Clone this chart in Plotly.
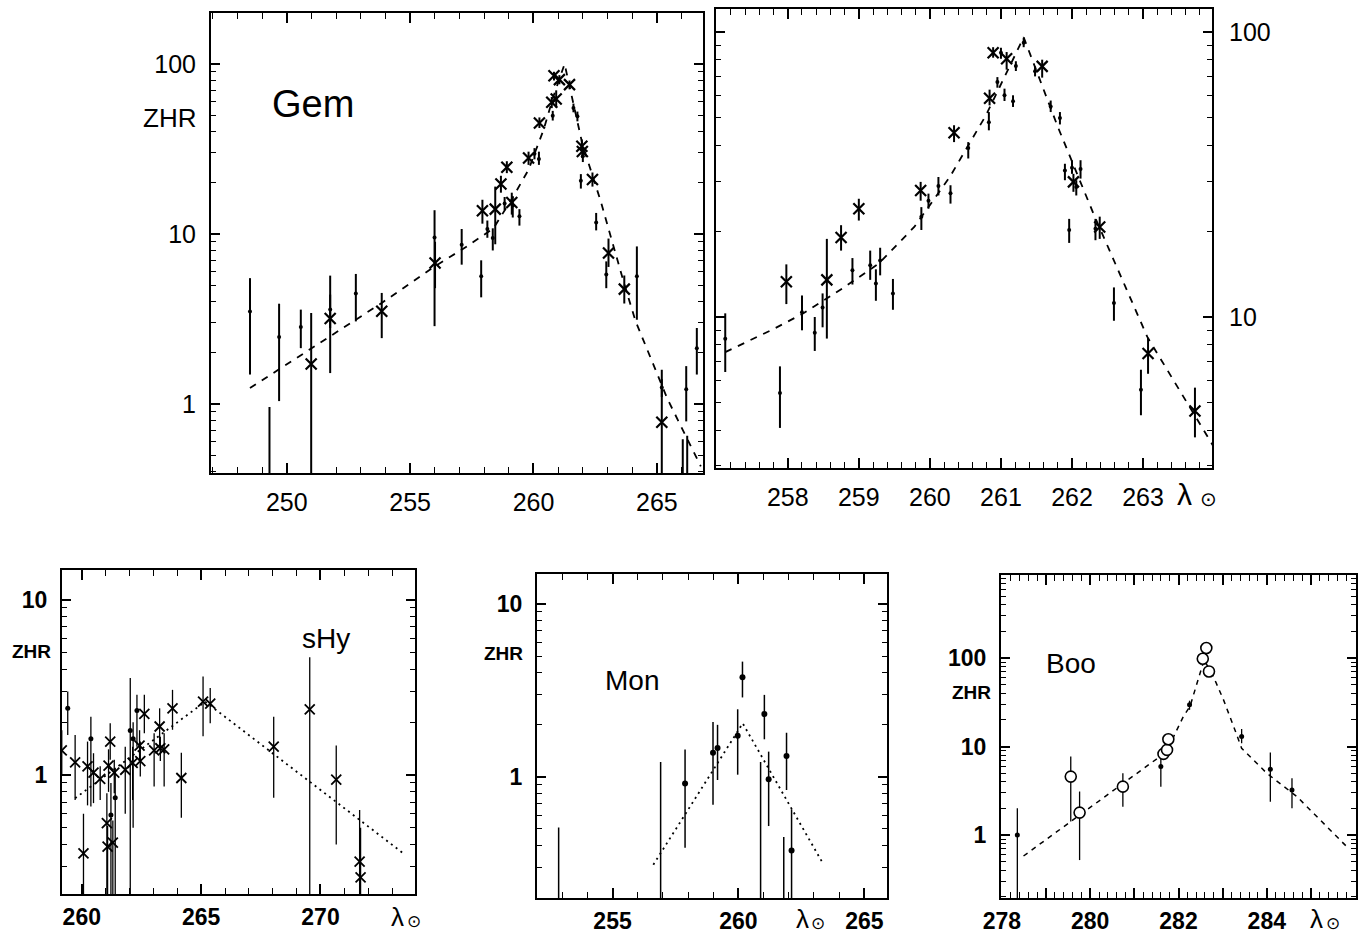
import plotly.graph_objects as go

W, H = 1364, 940
FONT = "Liberation Sans, Arial, sans-serif"

# ---------------- Gem (top left) ----------------
g1c_x = [250.99, 251.76, 253.85, 256.01, 257.93, 258.45, 258.68, 258.92, 259.12, 259.80, 260.24,
         260.74, 260.83, 260.92, 261.05, 261.46, 261.96, 261.98, 262.39, 263.04, 263.68, 265.20]
g1c_y = [1.72, 3.18, 3.51, 6.75, 13.7, 14.0, 19.7, 24.7, 15.3, 28.0, 45.0,
         59.5, 85.3, 62.2, 80.9, 75.6, 32.8, 30.6, 20.9, 7.72, 4.74, 0.78]
g1c_lo = [0.01, 1.52, 2.44, 4.8, 11.5, 8.7, 17.5, 22.8, 13.0, 25.5, 42.0,
          55.0, 80.0, 55.5, 76.0, 71.0, 30.0, 28.0, 19.0, 6.4, 3.9, 0.01]
g1c_hi = [3.43, 5.69, 4.5, 9.0, 15.9, 19.0, 22.0, 26.8, 17.5, 30.5, 48.5,
          64.0, 90.0, 70.0, 86.0, 80.0, 36.0, 33.0, 23.0, 9.4, 5.7, 1.59]

g1d_x = [248.51, 249.30, 249.69, 250.57, 251.76, 252.80, 255.99, 257.09, 257.88, 258.13,
         258.35, 258.83, 259.16, 259.43, 260.04, 260.22, 260.78, 261.62, 261.78, 261.92,
         262.00, 262.54, 262.95, 264.19, 265.20, 266.05, 266.19, 266.23, 266.62]
g1d_y = [3.5, 0.1, 2.48, 2.84, 3.59, 4.46, 9.55, 8.65, 5.64, 10.7,
         9.46, 15.1, 14.7, 12.7, 29.7, 27.6, 49.6, 55.1, 49.2, 20.6,
         28.7, 11.7, 5.77, 5.64, 1.25, 0.1, 1.22, 0.1, 2.13]
g1d_lo = [1.49, 0.01, 1.04, 2.13, 2.8, 3.06, 2.87, 6.6, 4.24, 9.5,
          8.0, 13.8, 12.5, 11.2, 27.5, 25.5, 46.5, 52.0, 46.0, 18.5,
          26.5, 10.5, 4.8, 3.13, 1.1, 0.01, 0.79, 0.01, 1.49]
g1d_hi = [5.5, 0.96, 3.89, 3.59, 4.4, 5.82, 13.8, 10.7, 7.0, 12.0,
          10.8, 16.5, 16.5, 14.0, 32.0, 30.5, 53.0, 58.5, 52.5, 22.5,
          30.8, 13.3, 6.9, 8.45, 1.4, 0.62, 1.67, 0.65, 2.8]

g1f_x = [248.51, 251.76, 253.85, 256.01, 257.30, 258.38, 259.19, 259.80, 260.41, 260.81,
         261.26, 261.98, 262.73, 263.63, 264.13, 265.43, 266.78]
g1f_y = [1.24, 2.50, 3.93, 6.46, 8.45, 10.8, 16.7, 23.9, 41.1, 64.6,
         100, 33.9, 15.5, 5.37, 3.09, 1.07, 0.43]

# ---------------- Gem (top right, zoomed) ----------------
g2c_x = [257.98, 258.55, 258.75, 259.00, 259.87, 260.34, 260.84, 260.89, 261.08, 261.58,
         262.02, 262.39, 263.07, 263.73]
g2c_y = [13.3, 13.5, 19.0, 24.0, 27.8, 44.3, 58.6, 84.6, 80.6, 75.8, 29.8, 20.7, 7.44, 4.68]
g2c_lo = [11.1, 8.4, 17.1, 21.8, 25.6, 41.1, 55.3, 81.3, 73.8, 69.2, 27.5, 18.8, 6.32, 3.78]
g2c_hi = [15.3, 18.8, 21.0, 26.0, 29.8, 47.1, 62.8, 88.5, 85.1, 80.0, 31.8, 22.5, 8.45, 5.65]

g2d_x = [257.12, 257.89, 258.20, 258.38, 258.49, 258.91, 259.16, 259.24, 259.30, 259.48,
         259.88, 259.98, 260.12, 260.29, 260.54, 260.83, 260.95, 261.00, 261.05, 261.17,
         261.21, 261.32, 261.48, 261.70, 261.83, 261.90, 261.96, 262.00, 262.06, 262.12,
         262.33, 262.59, 262.97]
g2d_y = [8.39, 5.41, 10.4, 8.81, 10.8, 14.6, 15.2, 13.1, 15.8, 12.1,
         22.5, 25.6, 28.8, 27.2, 39.2, 48.3, 66.8, 84.6, 60.0, 57.2,
         76.0, 91.7, 72.9, 54.8, 49.9, 32.7, 20.2, 33.4, 28.6, 33.1,
         20.4, 11.2, 5.56]
g2d_lo = [6.41, 4.08, 8.98, 7.6, 9.2, 13.0, 13.5, 11.4, 14.0, 10.6,
          20.2, 24.0, 26.7, 25.0, 36.0, 45.2, 63.8, 80.6, 57.3, 54.6,
          73.0, 88.5, 69.9, 52.4, 47.4, 30.2, 18.2, 31.8, 26.7, 30.6,
          18.6, 9.7, 4.52]
g2d_hi = [10.3, 6.71, 11.9, 10.0, 12.1, 16.1, 17.1, 14.7, 17.5, 13.6,
          24.3, 27.1, 31.0, 29.0, 41.1, 52.4, 69.5, 88.1, 63.3, 60.0,
          79.0, 95.5, 75.8, 57.5, 52.4, 34.5, 22.1, 35.5, 30.2, 35.5,
          22.1, 12.7, 6.53]

g2f_x = [257.12, 257.76, 258.22, 258.77, 259.28, 259.78, 260.28, 260.79, 261.32, 261.80,
         262.30, 263.06, 264.01]
g2f_y = [7.53, 8.97, 10.3, 12.6, 15.4, 20.7, 31.0, 51.1, 95.9, 46.5, 23.1, 8.51, 3.45]

# ---------------- sHy ----------------
s_c_x = [259.16, 259.72, 260.07, 260.24, 260.49, 260.77, 261.05, 261.08, 261.12, 261.19,
         261.30, 261.36, 261.82, 262.13, 262.42, 262.45, 262.62, 263.03, 263.26, 263.29,
         263.45, 263.80, 264.17, 265.08, 265.38, 268.04, 269.55, 270.66, 271.64, 271.68]
s_c_y = [1.38, 1.18, 0.356, 1.12, 1.03, 0.95, 0.53, 0.39, 1.13, 1.55,
         0.41, 1.03, 1.07, 1.17, 1.47, 1.20, 2.23, 1.38, 1.89, 1.42,
         1.40, 2.40, 0.96, 2.62, 2.55, 1.45, 2.37, 0.94, 0.32, 0.26]
s_c_lo = [1.0, 0.72, 0.01, 0.67, 0.69, 0.72, 0.01, 0.01, 0.8, 1.22,
          0.01, 0.785, 0.60, 0.72, 1.2, 0.98, 1.73, 0.86, 1.45, 1.2,
          0.86, 1.81, 0.57, 1.66, 1.97, 0.74, 0.01, 0.40, 0.01, 0.01]
s_c_hi = [1.8, 1.69, 0.60, 1.55, 1.33, 1.12, 0.785, 0.51, 1.4, 1.97,
          0.55, 1.22, 1.45, 1.45, 1.8, 1.55, 2.87, 1.73, 2.4, 1.65,
          1.73, 3.06, 1.34, 3.65, 3.13, 2.15, 4.7, 1.47, 0.63, 0.5]

s_d_x = [259.41, 260.38, 261.22, 261.40, 262.03, 262.15, 262.31]
s_d_y = [2.4, 1.61, 0.59, 0.74, 1.79, 1.61, 2.33]
s_d_lo = [1.69, 0.66, 0.01, 0.01, 0.01, 0.5, 1.45]
s_d_hi = [2.99, 2.15, 0.9, 1.1, 3.57, 2.0, 2.87]

s_f_x = [259.72, 265.17, 273.43]
s_f_y = [0.736, 2.62, 0.36]

# ---------------- Mon ----------------
m_d_x = [252.86, 256.91, 257.88, 258.99, 259.17, 259.97, 260.16, 260.88, 261.03, 261.20,
         261.80, 261.91, 262.11]
m_d_y = [0.05, 0.05, 0.915, 1.38, 1.47, 1.73, 3.77, 0.05, 2.31, 0.97, 0.05, 1.32, 0.375]
m_d_lo = [0.01, 0.01, 0.39, 0.69, 0.96, 1.03, 2.88, 0.01, 1.65, 0.52, 0.01, 0.84, 0.01]
m_d_hi = [0.51, 1.22, 1.44, 2.08, 2.0, 2.46, 4.64, 1.22, 2.98, 1.4, 0.45, 1.8, 0.65]

m_f_x = [256.62, 260.17, 263.33]
m_f_y = [0.311, 2.04, 0.321]

# ---------------- Boo ----------------
b_d_x = [278.35, 281.60, 282.25, 283.43, 284.08, 284.57]
b_d_y = [1.0, 5.94, 29.7, 13.0, 5.53, 3.23]
b_d_lo = [0.01, 3.52, 26.0, 10.9, 2.38, 2.0]
b_d_hi = [2.0, 8.05, 33.0, 15.8, 8.55, 4.37]

b_o_x = [279.56, 279.76, 280.74, 281.66, 281.74, 281.77, 282.55, 282.63, 282.69]
b_o_y = [4.57, 1.79, 3.52, 8.26, 9.16, 12.1, 98.4, 130, 70.7]
b_o_lo = [1.42, 0.52, 2.09, 7.5, 8.3, 11.0, 98.4, 130, 70.7]
b_o_hi = [7.7, 3.1, 4.99, 9.2, 10.0, 13.5, 98.4, 130, 70.7]

b_f_x = [278.49, 279.56, 281.58, 281.89, 282.11, 282.26, 282.53, 282.58, 282.79, 283.02,
         283.25, 283.43, 284.00, 284.68, 285.81]
b_f_y = [0.578, 1.416, 7.71, 12.97, 21.9, 28.4, 80.5, 95.5, 61.9, 33.7,
         16.8, 9.57, 4.99, 2.72, 0.738]

# ---------------- helpers ----------------
fig = go.Figure()


def errpts(x, y, lo, hi, ax, symbol, size, mlw, ew, fill="black"):
    plus = [h - v for v, h in zip(y, hi)]
    minus = [v - l for v, l in zip(y, lo)]
    marker = dict(symbol=symbol, size=size, color=fill,
                  line=dict(color="black", width=mlw))
    fig.add_trace(go.Scatter(
        x=x, y=y, mode="markers", marker=marker, showlegend=False,
        xaxis="x" + ax, yaxis="y" + ax, cliponaxis=True,
        error_y=dict(type="data", symmetric=False, array=plus, arrayminus=minus,
                     width=0, thickness=ew, color="black")))


def fitline(x, y, ax, dash, width):
    fig.add_trace(go.Scatter(x=x, y=y, mode="lines", showlegend=False,
                             line=dict(color="black", width=width, dash=dash),
                             xaxis="x" + ax, yaxis="y" + ax))


# Gem 1
fitline(g1f_x, g1f_y, "", "7px,7px", 1.8)
errpts(g1d_x, g1d_y, g1d_lo, g1d_hi, "", "circle", 4, 0, 2)
errpts(g1c_x, g1c_y, g1c_lo, g1c_hi, "", "x-thin", 11, 2.2, 2)
# Gem 2
fitline(g2f_x, g2f_y, "2", "7px,7px", 1.8)
errpts(g2d_x, g2d_y, g2d_lo, g2d_hi, "2", "circle", 4, 0, 2)
errpts(g2c_x, g2c_y, g2c_lo, g2c_hi, "2", "x-thin", 11, 2.2, 2)
# sHy
fitline(s_f_x, s_f_y, "3", "2px,4px", 1.8)
errpts(s_d_x, s_d_y, s_d_lo, s_d_hi, "3", "circle", 5, 0, 1.3)
errpts(s_c_x, s_c_y, s_c_lo, s_c_hi, "3", "x-thin", 10, 1.8, 1.3)
# Mon
fitline(m_f_x, m_f_y, "4", "2px,4px", 1.8)
errpts(m_d_x, m_d_y, m_d_lo, m_d_hi, "4", "circle", 6, 0, 1.5)
# Boo
fitline(b_f_x, b_f_y, "5", "5px,5px", 1.5)
errpts(b_d_x, b_d_y, b_d_lo, b_d_hi, "5", "circle", 5, 0, 1.3)
errpts(b_o_x, b_o_y, b_o_lo, b_o_hi, "5", "circle", 11, 1.6, 1.3, fill="white")


def minor_log(lo_exp, hi_exp):
    return [m * 10 ** k for k in range(lo_exp, hi_exp + 1) for m in range(2, 10)]


def xaxis(dom, rng, tickvals, ticktext, minor_dtick, size, bold, standoff, anchor):
    return dict(domain=[dom[0] / W, dom[1] / W], range=rng, anchor=anchor, automargin=False,
                showline=True, linecolor="black", linewidth=2, mirror="ticks",
                showgrid=False, zeroline=False,
                ticks="inside", ticklen=10, tickwidth=1.6, tickcolor="black",
                tickmode="array", tickvals=tickvals, ticktext=ticktext,
                ticklabelstandoff=standoff,
                tickfont=dict(family=FONT, size=size, color="black",
                              weight="bold" if bold else "normal"),
                minor=dict(dtick=minor_dtick, tick0=0, ticks="inside", ticklen=6,
                           tickwidth=1.4, tickcolor="black", showgrid=False))


def yaxis(dom, rng, tickvals, size, bold, standoff, anchor, side="left", minor_exp=(-1, 2)):
    return dict(domain=[1 - dom[1] / H, 1 - dom[0] / H], type="log", range=rng,
                anchor=anchor, side=side, automargin=False,
                showline=True, linecolor="black", linewidth=2, mirror="ticks",
                showgrid=False, zeroline=False,
                ticks="inside", ticklen=9, tickwidth=1.6, tickcolor="black",
                tickmode="array", tickvals=tickvals, ticktext=[str(v) for v in tickvals],
                ticklabelstandoff=standoff,
                tickfont=dict(family=FONT, size=size, color="black",
                              weight="bold" if bold else "normal"),
                minor=dict(tickvals=minor_log(*minor_exp), ticks="inside", ticklen=5,
                           tickwidth=1.4, tickcolor="black", showgrid=False))


p1x, p1y = (211, 703), (13, 473)
p2x, p2y = (716, 1212), (9, 468)
p3x, p3y = (62, 415), (570, 894)
p4x, p4y = (537, 887), (574, 898)
p5x, p5y = (1001, 1356), (575, 898)

layout = dict(
    width=W, height=H, margin=dict(l=0, r=0, t=0, b=0, pad=0, autoexpand=False), autosize=False,
    paper_bgcolor="white", plot_bgcolor="white", showlegend=False,
    xaxis=xaxis(p1x, [246.93, 266.87], [250, 255, 260, 265], ["250", "255", "260", "265"],
                1, 25, False, 6, "y"),
    yaxis=yaxis(p1y, [-0.406, 2.30], [1, 10, 100], 25, False, 8, "x"),
    xaxis2=xaxis(p2x, [256.99, 263.97], [258, 259, 260, 261, 262, 263],
                 ["258", "259", "260", "261", "262", "263"], 0.2, 25, False, 6, "y2"),
    yaxis2=yaxis(p2y, [0.47, 2.081], [10, 100], 25, False, 10, "x2", side="right"),
    xaxis3=xaxis(p3x, [259.17, 273.96], [260, 265, 270], ["260", "265", "270"],
                 1, 23, True, 1, "y3"),
    yaxis3=yaxis(p3y, [-0.68, 1.17], [1, 10], 23, True, 8, "x3"),
    xaxis4=xaxis(p4x, [252.0, 265.9], [255, 260, 265], ["255", "260", "265"],
                 1, 23, True, 1, "y4"),
    yaxis4=yaxis(p4y, [-0.70, 1.173], [1, 10], 23, True, 8, "x4"),
    xaxis5=xaxis(p5x, [277.98, 286.02], [278, 279, 280, 281, 282, 283, 284, 285, 286],
                 ["278", "", "280", "", "282", "", "284", "", ""], 0.2, 23, True, 1, "y5"),
    yaxis5=yaxis(p5y, [-0.713, 2.94], [1, 10, 100], 23, True, 8, "x5"),
)
fig.update_layout(**layout)


def ann(text, x, y, size, bold=False, xanchor="center", yanchor="middle"):
    fig.add_annotation(text=text, x=x / W, y=1 - y / H, xref="paper", yref="paper",
                       showarrow=False, xanchor=xanchor, yanchor=yanchor,
                       font=dict(family=FONT, size=size, color="black",
                                 weight="bold" if bold else "normal"))


# Top panels
ann("ZHR", 198, 118, 26, xanchor="right")
ann("Gem", 313, 104, 38)
ann("λ", 1184, 494, 30)
ann("⊙", 1208, 499, 20)
# sHy
ann("ZHR", 53, 651, 19, bold=True, xanchor="right")
ann("sHy", 326, 638, 28)
ann("λ", 397, 917, 26)
ann("⊙", 414, 921, 17)
# Mon
ann("ZHR", 525, 653, 19, bold=True, xanchor="right")
ann("Mon", 632, 680, 28)
ann("λ", 802, 919, 26)
ann("⊙", 818, 923, 17)
# Boo
ann("ZHR", 993, 692, 19, bold=True, xanchor="right")
ann("Boo", 1071, 663, 28)
ann("λ", 1316, 919, 26)
ann("⊙", 1333, 923, 17)

fig.write_html("out.html", config={"displayModeBar": False},
               post_script="document.body.style.margin='0px';document.body.style.overflow='hidden';")
